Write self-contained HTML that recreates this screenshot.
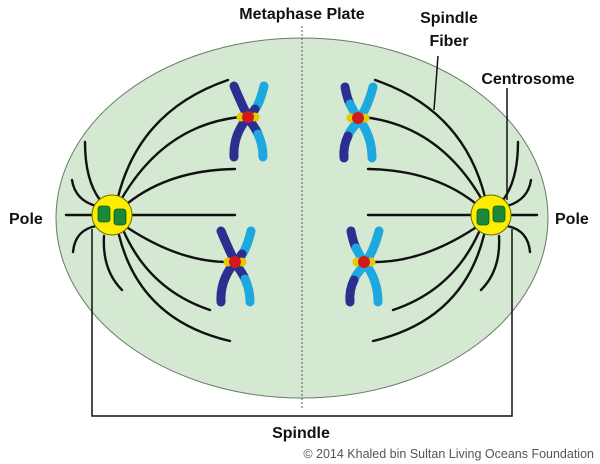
<!DOCTYPE html>
<html><head><style>body{margin:0;background:#fff}svg{display:block}</style></head><body>
<svg width="600" height="464" viewBox="0 0 600 464" xmlns="http://www.w3.org/2000/svg" font-family="Liberation Sans, sans-serif">
<defs>
<g id="side">
 <g fill="none" stroke="#111" stroke-width="2.4" stroke-linecap="round">
  <path d="M118,197 Q140,110 228,80"/>
  <path d="M122,198 Q165,125 240,117"/>
  <path d="M128,203 Q170,170 235,169"/>
  <path d="M132,215 L235,215"/>
  <path d="M128,228 Q180,262 228,262"/>
  <path d="M124,232 Q150,290 210,310"/>
  <path d="M119,235 Q140,320 230,341"/>
  <path d="M104,236 Q102,270 122,290"/>
  <path d="M100,200 Q85,180 85,142"/>
  <path d="M96,206 Q75,200 72,180"/>
  <path d="M66,215 L94,215"/>
  <path d="M96,226 Q75,230 73,252"/>
 </g>
 <circle cx="112" cy="215" r="20" fill="#ffed00" stroke="#6b6b00" stroke-width="1"/>
 <rect x="98" y="206" width="12" height="16" rx="3" fill="#1a8a3a" stroke="#0d5a22" stroke-width="0.8"/>
 <rect x="114" y="209" width="12" height="16" rx="3" fill="#1a8a3a" stroke="#0d5a22" stroke-width="0.8"/>
</g>
<g id="cen">
 <ellipse cx="-7" cy="0" rx="4.5" ry="4.5" fill="#e8c800"/>
 <ellipse cx="7" cy="0" rx="4.5" ry="4.5" fill="#e8c800"/>
 <circle cx="0" cy="0" r="6" fill="#d01a1a"/>
</g>
<g id="chromoL">
 <g fill="none" stroke-width="9" stroke-linecap="round">
  <path d="M-14,-31 Q-6,-12 0,0" stroke="#2b2f8f"/>
  <path d="M-3,4 Q-15,20 -14,40" stroke="#2b2f8f"/>
  <path d="M16,-31 Q12,-14 6,-6" stroke="#1da8e0"/>
  <path d="M7,-8 Q4,-3 0,0" stroke="#2b2f8f"/>
  <path d="M2,4 Q8,12 10,17" stroke="#2b2f8f"/>
  <path d="M10,17 Q15,28 15,40" stroke="#1da8e0"/>
 </g>
 <use href="#cen"/>
</g>
<g id="chromoR">
 <g fill="none" stroke-width="9" stroke-linecap="round">
  <path d="M-13,-31 Q-11,-20 -8,-14" stroke="#2b2f8f"/>
  <path d="M-8,-14 Q-4,-6 0,0" stroke="#1da8e0"/>
  <path d="M0,4 Q-8,12 -10,18" stroke="#1da8e0"/>
  <path d="M-10,18 Q-15,28 -14,40" stroke="#2b2f8f"/>
  <path d="M15,-31 Q10,-12 2,0" stroke="#1da8e0"/>
  <path d="M3,4 Q14,20 14,40" stroke="#1da8e0"/>
 </g>
 <use href="#cen"/>
</g>
</defs>
<ellipse cx="302" cy="218" rx="246" ry="180" fill="#d4e8d2" stroke="#6a7a6a" stroke-width="1"/>
<line x1="302" y1="26" x2="302" y2="410" stroke="#555" stroke-width="1" stroke-dasharray="2,2"/>
<use href="#side"/>
<use href="#side" transform="translate(603,0) scale(-1,1)"/>
<use href="#chromoL" transform="translate(248,117)"/>
<use href="#chromoL" transform="translate(235,262)"/>
<use href="#chromoR" transform="translate(358,118)"/>
<use href="#chromoR" transform="translate(364,262)"/>
<g fill="none" stroke="#111" stroke-width="1.5">
 <path d="M92,229 V416 H512 V229"/>
 <path d="M438,56 L434,110"/>
 <path d="M507,88 V200"/>
</g>
<g font-weight="bold" font-size="16" fill="#111">
 <text x="302" y="19" text-anchor="middle">Metaphase Plate</text>
 <text x="449" y="23" text-anchor="middle">Spindle</text>
 <text x="449" y="46" text-anchor="middle">Fiber</text>
 <text x="528" y="84" text-anchor="middle">Centrosome</text>
 <text x="9" y="224">Pole</text>
 <text x="555" y="224">Pole</text>
 <text x="301" y="438" text-anchor="middle">Spindle</text>
</g>
<text x="594" y="458" text-anchor="end" font-size="12.5" fill="#555">© 2014 Khaled bin Sultan Living Oceans Foundation</text>
</svg>
</body></html>
